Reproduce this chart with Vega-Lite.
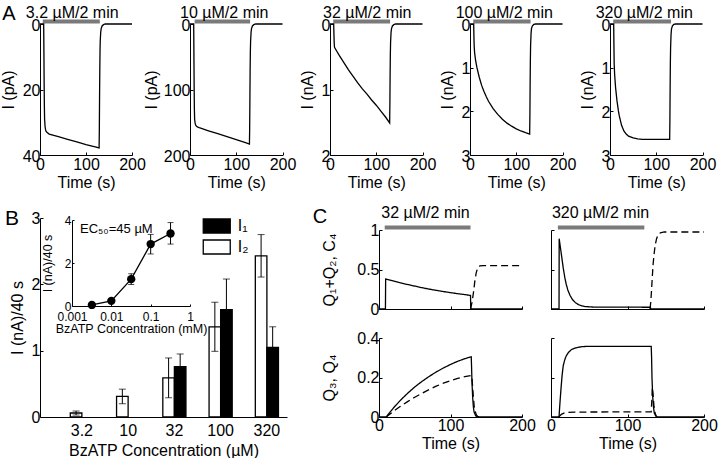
{
 "$schema": "https://vega.github.io/schema/vega-lite/v6.json",
 "padding": {"left": 0, "top": 3, "right": 0, "bottom": 0},
 "background": "white",
 "config": {
  "font": "Liberation Sans",
  "view": {"stroke": null},
  "style": {"guide-title": {"fontWeight": "normal"}, "group-title": {"fontWeight": "normal"}},
  "axis": {"domainColor": "#000", "domainWidth": 1, "tickColor": "#000", "tickSize": -3, "tickWidth": 1, "labelPadding": 3, "labelFontSize": 16, "labelColor": "#000", "titleFontSize": 16, "titleFontWeight": "normal", "titleColor": "#000", "titlePadding": 2, "grid": false, "labelFlush": false, "labelOverlap": false, "labelFont": "Liberation Sans", "titleFont": "Liberation Sans"},
  "axisQuantitative": {"format": "~r"},
  "title": {"fontSize": 16, "fontWeight": "normal", "font": "Liberation Sans", "color": "#000", "anchor": "middle", "frame": "group", "offset": -3.5},
  "legend": {"labelFont": "Liberation Sans"}
 },
 "resolve": {"legend": {"fill": "independent"}},
 "datasets": {
  "stim": [
   {"p": "3.2", "start": 6, "end": 130},
   {"p": "10", "start": 10, "end": 130},
   {"p": "32", "start": 7, "end": 130},
   {"p": "100", "start": 7, "end": 131},
   {"p": "320", "start": 7, "end": 132},
   {"p": "C1", "start": 8, "end": 128},
   {"p": "C2", "start": 9, "end": 122}
  ],
  "traceA": [
   {"p":"3.2","t":0,"i":0},{"p":"3.2","t":8,"i":0},{"p":"3.2","t":8.6,"i":10},{"p":"3.2","t":9,"i":18},{"p":"3.2","t":9.5,"i":25},{"p":"3.2","t":10,"i":29},{"p":"3.2","t":11,"i":31.3},{"p":"3.2","t":12,"i":32.2},{"p":"3.2","t":13,"i":32.7},{"p":"3.2","t":15,"i":33.1},{"p":"3.2","t":20,"i":33.6},{"p":"3.2","t":40,"i":34.4},{"p":"3.2","t":60,"i":35.2},{"p":"3.2","t":80,"i":36},{"p":"3.2","t":100,"i":36.8},{"p":"3.2","t":120,"i":37.5},{"p":"3.2","t":128.5,"i":37.8},{"p":"3.2","t":129,"i":32},{"p":"3.2","t":129.5,"i":22},{"p":"3.2","t":130,"i":14},{"p":"3.2","t":130.5,"i":8},{"p":"3.2","t":131,"i":5},{"p":"3.2","t":132,"i":2.5},{"p":"3.2","t":133,"i":1.4},{"p":"3.2","t":135,"i":0.6},{"p":"3.2","t":138,"i":0.2},{"p":"3.2","t":142,"i":0},{"p":"3.2","t":200,"i":0},
   {"p":"10","t":0,"i":0},{"p":"10","t":8,"i":0},{"p":"10","t":8.6,"i":60},{"p":"10","t":9,"i":100},{"p":"10","t":9.5,"i":130},{"p":"10","t":10,"i":145},{"p":"10","t":11,"i":151},{"p":"10","t":12,"i":154},{"p":"10","t":14,"i":156.3},{"p":"10","t":17,"i":157.5},{"p":"10","t":20,"i":158.3},{"p":"10","t":40,"i":163},{"p":"10","t":60,"i":167.5},{"p":"10","t":80,"i":172},{"p":"10","t":100,"i":176.5},{"p":"10","t":120,"i":181},{"p":"10","t":128.5,"i":183.2},{"p":"10","t":129,"i":160},{"p":"10","t":129.5,"i":115},{"p":"10","t":130,"i":70},{"p":"10","t":130.5,"i":42},{"p":"10","t":131,"i":27},{"p":"10","t":132,"i":13},{"p":"10","t":133,"i":7},{"p":"10","t":135,"i":3},{"p":"10","t":138,"i":1},{"p":"10","t":142,"i":0},{"p":"10","t":200,"i":0},
   {"p":"32","t":0,"i":0},{"p":"32","t":8,"i":0},{"p":"32","t":8.5,"i":0.15},{"p":"32","t":9,"i":0.28},{"p":"32","t":9.5,"i":0.34},{"p":"32","t":10,"i":0.36},{"p":"32","t":15,"i":0.42},{"p":"32","t":20,"i":0.48},{"p":"32","t":30,"i":0.59},{"p":"32","t":40,"i":0.7},{"p":"32","t":50,"i":0.8},{"p":"32","t":60,"i":0.9},{"p":"32","t":70,"i":0.99},{"p":"32","t":80,"i":1.07},{"p":"32","t":90,"i":1.16},{"p":"32","t":100,"i":1.24},{"p":"32","t":110,"i":1.33},{"p":"32","t":120,"i":1.42},{"p":"32","t":129,"i":1.51},{"p":"32","t":129.5,"i":1.2},{"p":"32","t":130,"i":0.75},{"p":"32","t":130.5,"i":0.45},{"p":"32","t":131,"i":0.28},{"p":"32","t":132,"i":0.13},{"p":"32","t":133,"i":0.07},{"p":"32","t":135,"i":0.03},{"p":"32","t":138,"i":0.01},{"p":"32","t":142,"i":0},{"p":"32","t":200,"i":0},
   {"p":"100","t":0,"i":0},{"p":"100","t":8,"i":0},{"p":"100","t":8.5,"i":0.3},{"p":"100","t":9,"i":0.5},{"p":"100","t":10,"i":0.66},{"p":"100","t":12,"i":0.83},{"p":"100","t":15,"i":1.0},{"p":"100","t":20,"i":1.22},{"p":"100","t":25,"i":1.4},{"p":"100","t":30,"i":1.54},{"p":"100","t":35,"i":1.66},{"p":"100","t":40,"i":1.77},{"p":"100","t":50,"i":1.94},{"p":"100","t":60,"i":2.07},{"p":"100","t":70,"i":2.18},{"p":"100","t":80,"i":2.27},{"p":"100","t":90,"i":2.34},{"p":"100","t":100,"i":2.4},{"p":"100","t":110,"i":2.45},{"p":"100","t":120,"i":2.49},{"p":"100","t":129,"i":2.52},{"p":"100","t":129.5,"i":2.1},{"p":"100","t":130,"i":1.4},{"p":"100","t":130.5,"i":0.85},{"p":"100","t":131,"i":0.5},{"p":"100","t":132,"i":0.22},{"p":"100","t":133,"i":0.1},{"p":"100","t":135,"i":0.04},{"p":"100","t":138,"i":0.01},{"p":"100","t":142,"i":0},{"p":"100","t":200,"i":0},
   {"p":"320","t":0,"i":0},{"p":"320","t":8,"i":0},{"p":"320","t":8.5,"i":0.5},{"p":"320","t":9,"i":0.9},{"p":"320","t":10,"i":1.15},{"p":"320","t":12,"i":1.45},{"p":"320","t":15,"i":1.75},{"p":"320","t":18,"i":1.98},{"p":"320","t":20,"i":2.1},{"p":"320","t":25,"i":2.32},{"p":"320","t":30,"i":2.45},{"p":"320","t":35,"i":2.52},{"p":"320","t":40,"i":2.57},{"p":"320","t":50,"i":2.61},{"p":"320","t":60,"i":2.63},{"p":"320","t":70,"i":2.64},{"p":"320","t":129,"i":2.64},{"p":"320","t":129.5,"i":2.2},{"p":"320","t":130,"i":1.5},{"p":"320","t":130.5,"i":0.9},{"p":"320","t":131,"i":0.55},{"p":"320","t":132,"i":0.24},{"p":"320","t":133,"i":0.11},{"p":"320","t":135,"i":0.04},{"p":"320","t":138,"i":0.01},{"p":"320","t":142,"i":0},{"p":"320","t":200,"i":0}
  ],
  "traceC": [
   {"p":"C1","s":"solid","t":0,"v":0},{"p":"C1","s":"solid","t":9,"v":0},{"p":"C1","s":"solid","t":9.3,"v":0.38},{"p":"C1","s":"solid","t":20,"v":0.355},{"p":"C1","s":"solid","t":30,"v":0.33},{"p":"C1","s":"solid","t":40,"v":0.31},{"p":"C1","s":"solid","t":50,"v":0.29},{"p":"C1","s":"solid","t":60,"v":0.27},{"p":"C1","s":"solid","t":70,"v":0.252},{"p":"C1","s":"solid","t":80,"v":0.236},{"p":"C1","s":"solid","t":90,"v":0.221},{"p":"C1","s":"solid","t":100,"v":0.207},{"p":"C1","s":"solid","t":110,"v":0.194},{"p":"C1","s":"solid","t":120,"v":0.182},{"p":"C1","s":"solid","t":128,"v":0.172},{"p":"C1","s":"solid","t":128.3,"v":0},{"p":"C1","s":"solid","t":200,"v":0},
   {"p":"C1","s":"dashed","t":128,"v":0},{"p":"C1","s":"dashed","t":130,"v":0.08},{"p":"C1","s":"dashed","t":132,"v":0.2},{"p":"C1","s":"dashed","t":134,"v":0.35},{"p":"C1","s":"dashed","t":136,"v":0.46},{"p":"C1","s":"dashed","t":138,"v":0.52},{"p":"C1","s":"dashed","t":141,"v":0.545},{"p":"C1","s":"dashed","t":145,"v":0.55},{"p":"C1","s":"dashed","t":200,"v":0.55},
   {"p":"C2","s":"solid","t":0,"v":0},{"p":"C2","s":"solid","t":10.5,"v":0},{"p":"C2","s":"solid","t":10.7,"v":0.89},{"p":"C2","s":"solid","t":12,"v":0.8},{"p":"C2","s":"solid","t":14,"v":0.66},{"p":"C2","s":"solid","t":16,"v":0.52},{"p":"C2","s":"solid","t":18,"v":0.4},{"p":"C2","s":"solid","t":20,"v":0.31},{"p":"C2","s":"solid","t":22,"v":0.24},{"p":"C2","s":"solid","t":25,"v":0.17},{"p":"C2","s":"solid","t":28,"v":0.12},{"p":"C2","s":"solid","t":32,"v":0.08},{"p":"C2","s":"solid","t":36,"v":0.055},{"p":"C2","s":"solid","t":40,"v":0.04},{"p":"C2","s":"solid","t":45,"v":0.03},{"p":"C2","s":"solid","t":55,"v":0.025},{"p":"C2","s":"solid","t":130,"v":0.022},{"p":"C2","s":"solid","t":130.2,"v":0},{"p":"C2","s":"solid","t":200,"v":0},
   {"p":"C2","s":"dashed","t":129.5,"v":0},{"p":"C2","s":"dashed","t":130.5,"v":0.1},{"p":"C2","s":"dashed","t":131.5,"v":0.25},{"p":"C2","s":"dashed","t":132.5,"v":0.42},{"p":"C2","s":"dashed","t":133.5,"v":0.57},{"p":"C2","s":"dashed","t":134.5,"v":0.67},{"p":"C2","s":"dashed","t":136,"v":0.8},{"p":"C2","s":"dashed","t":138,"v":0.89},{"p":"C2","s":"dashed","t":140,"v":0.94},{"p":"C2","s":"dashed","t":143,"v":0.965},{"p":"C2","s":"dashed","t":148,"v":0.975},{"p":"C2","s":"dashed","t":200,"v":0.975},
   {"p":"C3","s":"solid","t":0,"v":0},{"p":"C3","s":"solid","t":10,"v":0},{"p":"C3","s":"solid","t":20,"v":0.045},{"p":"C3","s":"solid","t":30,"v":0.085},{"p":"C3","s":"solid","t":40,"v":0.12},{"p":"C3","s":"solid","t":50,"v":0.152},{"p":"C3","s":"solid","t":60,"v":0.18},{"p":"C3","s":"solid","t":70,"v":0.205},{"p":"C3","s":"solid","t":80,"v":0.228},{"p":"C3","s":"solid","t":90,"v":0.248},{"p":"C3","s":"solid","t":100,"v":0.266},{"p":"C3","s":"solid","t":110,"v":0.282},{"p":"C3","s":"solid","t":120,"v":0.295},{"p":"C3","s":"solid","t":129,"v":0.305},{"p":"C3","s":"solid","t":129.5,"v":0.25},{"p":"C3","s":"solid","t":130,"v":0.18},{"p":"C3","s":"solid","t":131,"v":0.1},{"p":"C3","s":"solid","t":132,"v":0.05},{"p":"C3","s":"solid","t":133,"v":0.025},{"p":"C3","s":"solid","t":135,"v":0.008},{"p":"C3","s":"solid","t":137,"v":0},{"p":"C3","s":"solid","t":200,"v":0},
   {"p":"C3","s":"dashed","t":10,"v":0},{"p":"C3","s":"dashed","t":20,"v":0.028},{"p":"C3","s":"dashed","t":30,"v":0.054},{"p":"C3","s":"dashed","t":40,"v":0.078},{"p":"C3","s":"dashed","t":50,"v":0.1},{"p":"C3","s":"dashed","t":60,"v":0.12},{"p":"C3","s":"dashed","t":70,"v":0.139},{"p":"C3","s":"dashed","t":80,"v":0.156},{"p":"C3","s":"dashed","t":90,"v":0.171},{"p":"C3","s":"dashed","t":100,"v":0.184},{"p":"C3","s":"dashed","t":110,"v":0.195},{"p":"C3","s":"dashed","t":120,"v":0.204},{"p":"C3","s":"dashed","t":129,"v":0.21},{"p":"C3","s":"dashed","t":130,"v":0.2},{"p":"C3","s":"dashed","t":131,"v":0.15},{"p":"C3","s":"dashed","t":132,"v":0.1},{"p":"C3","s":"dashed","t":133,"v":0.06},{"p":"C3","s":"dashed","t":134,"v":0.035},{"p":"C3","s":"dashed","t":136,"v":0.012},{"p":"C3","s":"dashed","t":138,"v":0.003},{"p":"C3","s":"dashed","t":140,"v":0},
   {"p":"C4","s":"solid","t":0,"v":0},{"p":"C4","s":"solid","t":10.5,"v":0},{"p":"C4","s":"solid","t":11.5,"v":0.06},{"p":"C4","s":"solid","t":13,"v":0.14},{"p":"C4","s":"solid","t":14.5,"v":0.21},{"p":"C4","s":"solid","t":16,"v":0.26},{"p":"C4","s":"solid","t":18,"v":0.29},{"p":"C4","s":"solid","t":20,"v":0.31},{"p":"C4","s":"solid","t":23,"v":0.328},{"p":"C4","s":"solid","t":27,"v":0.342},{"p":"C4","s":"solid","t":32,"v":0.35},{"p":"C4","s":"solid","t":40,"v":0.356},{"p":"C4","s":"solid","t":50,"v":0.358},{"p":"C4","s":"solid","t":131,"v":0.358},{"p":"C4","s":"solid","t":131.5,"v":0.3},{"p":"C4","s":"solid","t":132,"v":0.2},{"p":"C4","s":"solid","t":133,"v":0.1},{"p":"C4","s":"solid","t":134,"v":0.05},{"p":"C4","s":"solid","t":135,"v":0.02},{"p":"C4","s":"solid","t":137,"v":0.005},{"p":"C4","s":"solid","t":139,"v":0},{"p":"C4","s":"solid","t":200,"v":0},
   {"p":"C4","s":"dashed","t":10.5,"v":0},{"p":"C4","s":"dashed","t":12,"v":0.008},{"p":"C4","s":"dashed","t":14,"v":0.015},{"p":"C4","s":"dashed","t":17,"v":0.02},{"p":"C4","s":"dashed","t":20,"v":0.023},{"p":"C4","s":"dashed","t":30,"v":0.025},{"p":"C4","s":"dashed","t":131,"v":0.026},{"p":"C4","s":"dashed","t":132,"v":0.1},{"p":"C4","s":"dashed","t":132.5,"v":0.15},{"p":"C4","s":"dashed","t":133.5,"v":0.11},{"p":"C4","s":"dashed","t":134.5,"v":0.06},{"p":"C4","s":"dashed","t":136,"v":0.02},{"p":"C4","s":"dashed","t":138,"v":0}
  ],
  "bars": [
   {"conc": "3.2", "series": "I₂", "value": 0.06, "lo": 0.03, "hi": 0.09},
   {"conc": "10", "series": "I₂", "value": 0.31, "lo": 0.2, "hi": 0.42},
   {"conc": "32", "series": "I₂", "value": 0.59, "lo": 0.29, "hi": 0.89},
   {"conc": "32", "series": "I₁", "value": 0.76, "lo": 0.57, "hi": 0.95},
   {"conc": "100", "series": "I₂", "value": 1.36, "lo": 0.99, "hi": 1.73},
   {"conc": "100", "series": "I₁", "value": 1.62, "lo": 1.16, "hi": 2.08},
   {"conc": "320", "series": "I₂", "value": 2.43, "lo": 2.11, "hi": 2.75},
   {"conc": "320", "series": "I₁", "value": 1.05, "lo": 0.74, "hi": 1.36}
  ],
  "dose": [
   {"mM": 0.0032, "value": 0.05, "lo": 0.02, "hi": 0.08},
   {"mM": 0.01, "value": 0.24, "lo": 0.15, "hi": 0.33},
   {"mM": 0.032, "value": 1.25, "lo": 1.0, "hi": 1.5},
   {"mM": 0.1, "value": 2.88, "lo": 2.42, "hi": 3.33},
   {"mM": 0.32, "value": 3.37, "lo": 2.88, "hi": 3.88}
  ],
  "ec": [{"label": "EC₅₀=45 µM"}]
 },
 "spacing": 14,
 "vconcat": [
  {
   "title": {"text": "A", "anchor": "start", "frame": "bounds", "fontSize": 20, "offset": -19, "dx": 2},
   "bounds": "flush",
   "spacing": 47,
   "hconcat": [
    {
     "width": 102.5, "height": 131,
     "title": {"text": "3.2 µM/2 min", "dx": -19},
     "layer": [
      {"data": {"name": "stim"}, "transform": [{"filter": "datum.p === '3.2'"}],
       "mark": {"type": "rule", "color": "#7a7a7a", "strokeWidth": 4, "yOffset": -2.5},
       "encoding": {"x": {"field": "start", "type": "quantitative", "title": "Time (s)"}, "x2": {"field": "end"}, "y": {"datum": 0, "type": "quantitative"}}},
      {"data": {"name": "traceA"}, "transform": [{"filter": "datum.p === '3.2'"}],
       "mark": {"type": "line", "color": "#000", "strokeWidth": 1.3},
       "encoding": {
        "x": {"field": "t", "type": "quantitative", "title": "Time (s)", "scale": {"domain": [0, 200], "nice": false, "range": [0, 92]}, "axis": {"values": [0, 100, 200], "labelPadding": 4}},
        "y": {"field": "i", "type": "quantitative", "title": "I (pA)", "scale": {"domain": [0, 40], "nice": false, "reverse": true}, "axis": {"values": [0, 20, 40], "titlePadding": 6, "labelOffset": 1}}}}
     ]
    },
    {
     "width": 92.5, "height": 131,
     "title": {"text": "10 µM/2 min", "dx": -12},
     "layer": [
      {"data": {"name": "stim"}, "transform": [{"filter": "datum.p === '10'"}],
       "mark": {"type": "rule", "color": "#7a7a7a", "strokeWidth": 4, "yOffset": -2.5},
       "encoding": {"x": {"field": "start", "type": "quantitative", "title": "Time (s)"}, "x2": {"field": "end"}, "y": {"datum": 0, "type": "quantitative"}}},
      {"data": {"name": "traceA"}, "transform": [{"filter": "datum.p === '10'"}],
       "mark": {"type": "line", "color": "#000", "strokeWidth": 1.3},
       "encoding": {
        "x": {"field": "t", "type": "quantitative", "title": "Time (s)", "scale": {"domain": [0, 200], "nice": false}, "axis": {"values": [0, 100, 200], "labelPadding": 4}},
        "y": {"field": "i", "type": "quantitative", "title": "I (pA)", "scale": {"domain": [0, 200], "nice": false, "reverse": true}, "axis": {"values": [0, 100, 200], "titlePadding": 4, "labelOffset": 1}}}}
     ]
    },
    {
     "width": 92.5, "height": 131,
     "title": {"text": "32 µM/2 min", "dx": -9},
     "layer": [
      {"data": {"name": "stim"}, "transform": [{"filter": "datum.p === '32'"}],
       "mark": {"type": "rule", "color": "#7a7a7a", "strokeWidth": 4, "yOffset": -2.5},
       "encoding": {"x": {"field": "start", "type": "quantitative", "title": "Time (s)"}, "x2": {"field": "end"}, "y": {"datum": 0, "type": "quantitative"}}},
      {"data": {"name": "traceA"}, "transform": [{"filter": "datum.p === '32'"}],
       "mark": {"type": "line", "color": "#000", "strokeWidth": 1.3},
       "encoding": {
        "x": {"field": "t", "type": "quantitative", "title": "Time (s)", "scale": {"domain": [0, 200], "nice": false}, "axis": {"values": [0, 100, 200], "labelPadding": 4}},
        "y": {"field": "i", "type": "quantitative", "title": "I (nA)", "scale": {"domain": [0, 2], "nice": false, "reverse": true}, "axis": {"values": [0, 1, 2], "titlePadding": 6, "labelOffset": 1}}}}
     ]
    },
    {
     "width": 92.5, "height": 131,
     "title": {"text": "100 µM/2 min", "dx": -12},
     "layer": [
      {"data": {"name": "stim"}, "transform": [{"filter": "datum.p === '100'"}],
       "mark": {"type": "rule", "color": "#7a7a7a", "strokeWidth": 4, "yOffset": -2.5},
       "encoding": {"x": {"field": "start", "type": "quantitative", "title": "Time (s)"}, "x2": {"field": "end"}, "y": {"datum": 0, "type": "quantitative"}}},
      {"data": {"name": "traceA"}, "transform": [{"filter": "datum.p === '100'"}],
       "mark": {"type": "line", "color": "#000", "strokeWidth": 1.3},
       "encoding": {
        "x": {"field": "t", "type": "quantitative", "title": "Time (s)", "scale": {"domain": [0, 200], "nice": false}, "axis": {"values": [0, 100, 200], "labelPadding": 4}},
        "y": {"field": "i", "type": "quantitative", "title": "I (nA)", "scale": {"domain": [0, 3], "nice": false, "reverse": true}, "axis": {"values": [0, 1, 2, 3], "titlePadding": 6, "labelOffset": 1}}}}
     ]
    },
    {
     "width": 92.5, "height": 131,
     "title": {"text": "320 µM/2 min", "dx": -12},
     "layer": [
      {"data": {"name": "stim"}, "transform": [{"filter": "datum.p === '320'"}],
       "mark": {"type": "rule", "color": "#7a7a7a", "strokeWidth": 4, "yOffset": -2.5},
       "encoding": {"x": {"field": "start", "type": "quantitative", "title": "Time (s)"}, "x2": {"field": "end"}, "y": {"datum": 0, "type": "quantitative"}}},
      {"data": {"name": "traceA"}, "transform": [{"filter": "datum.p === '320'"}],
       "mark": {"type": "line", "color": "#000", "strokeWidth": 1.3},
       "encoding": {
        "x": {"field": "t", "type": "quantitative", "title": "Time (s)", "scale": {"domain": [0, 200], "nice": false}, "axis": {"values": [0, 100, 200], "labelPadding": 4}},
        "y": {"field": "i", "type": "quantitative", "title": "I (nA)", "scale": {"domain": [0, 3], "nice": false, "reverse": true}, "axis": {"values": [0, 1, 2, 3], "titlePadding": 6, "labelOffset": 1}}}}
     ]
    }
   ]
  },
  {
   "spacing": 25,
   "resolve": {"legend": {"fill": "independent"}},
   "hconcat": [
    {
     "width": 247, "height": 199,
     "title": {"text": "B", "anchor": "start", "frame": "bounds", "fontSize": 21, "offset": -18.5, "dx": -4},
     "resolve": {"scale": {"x": "independent", "y": "independent"}, "axis": {"x": "independent", "y": "independent"}},
     "layer": [
      {
       "data": {"name": "bars"},
       "encoding": {
        "x": {"field": "conc", "type": "nominal", "sort": ["3.2", "10", "32", "100", "320"], "title": "BzATP Concentration (µM)", "scale": {"paddingInner": 0.5, "paddingOuter": 0.42, "align": 0.78}, "axis": {"labelAngle": 0, "ticks": false, "labelPadding": 5, "titlePadding": 4}},
        "xOffset": {"field": "series", "type": "nominal", "sort": ["I₂", "I₁"]}
       },
       "layer": [
        {"mark": {"type": "bar", "stroke": "#000", "strokeWidth": 1.3},
         "encoding": {
          "y": {"field": "value", "type": "quantitative", "title": "I (nA)/40 s", "scale": {"domain": [0, 3], "nice": false}, "axis": {"values": [0, 1, 2, 3], "titlePadding": 6}},
          "fill": {"field": "series", "type": "nominal", "scale": {"domain": ["I₁", "I₂"], "range": ["#000000", "#ffffff"]},
           "legend": {"orient": "none", "legendX": 168.75, "legendY": 0, "title": null, "symbolType": "M-2,-1.04H2V1.04H-2Z", "symbolSize": 182.25, "symbolStrokeColor": "#000", "symbolStrokeWidth": 1.3, "labelFontSize": 16, "labelColor": "#000", "labelOffset": 13, "rowPadding": 1, "padding": 0}}}},
        {"mark": {"type": "rule", "color": "#000", "strokeWidth": 1},
         "encoding": {"y": {"field": "lo", "type": "quantitative", "title": "I (nA)/40 s"}, "y2": {"field": "hi"}}},
        {"mark": {"type": "tick", "orient": "horizontal", "color": "#000", "size": 7, "thickness": 1},
         "encoding": {"y": {"field": "lo", "type": "quantitative", "title": "I (nA)/40 s"}}},
        {"mark": {"type": "tick", "orient": "horizontal", "color": "#000", "size": 7, "thickness": 1},
         "encoding": {"y": {"field": "hi", "type": "quantitative", "title": "I (nA)/40 s"}}}
       ]
      },
      {
       "data": {"name": "dose"},
       "encoding": {
        "x": {"field": "mM", "type": "quantitative", "title": "BzATP Concentration (mM)", "scale": {"type": "log", "domain": [0.001, 1], "range": [32, 150], "nice": false}, "axis": {"orient": "bottom", "offset": -111, "values": [0.001, 0.01, 0.1, 1], "format": "~g", "labelFontSize": 12, "titleFontSize": 12.5, "labelPadding": 7, "titlePadding": 0, "tickSize": -2}}
       },
       "layer": [
        {"mark": {"type": "line", "color": "#000", "strokeWidth": 1.3},
         "encoding": {"y": {"field": "value", "type": "quantitative", "title": "I (nA)/40 s", "scale": {"domain": [0, 4], "range": [88, 2], "nice": false}, "axis": {"orient": "left", "offset": -32, "values": [0, 2, 4], "labelFontSize": 12, "titleFontSize": 12.5, "titlePadding": 10, "labelPadding": 3, "tickSize": -2}}}},
        {"mark": {"type": "rule", "color": "#000", "strokeWidth": 1},
         "encoding": {"y": {"field": "lo", "type": "quantitative", "title": "I (nA)/40 s"}, "y2": {"field": "hi"}}},
        {"mark": {"type": "tick", "orient": "horizontal", "color": "#000", "size": 6, "thickness": 1},
         "encoding": {"y": {"field": "lo", "type": "quantitative", "title": "I (nA)/40 s"}}},
        {"mark": {"type": "tick", "orient": "horizontal", "color": "#000", "size": 6, "thickness": 1},
         "encoding": {"y": {"field": "hi", "type": "quantitative", "title": "I (nA)/40 s"}}},
        {"mark": {"type": "point", "filled": true, "color": "#000", "size": 70, "opacity": 1},
         "encoding": {"y": {"field": "value", "type": "quantitative", "title": "I (nA)/40 s"}}}
       ]
      },
      {
       "data": {"name": "ec"},
       "mark": {"type": "text", "align": "left", "baseline": "middle", "fontSize": 13, "color": "#000"},
       "encoding": {
        "x": {"datum": 0.0016, "type": "quantitative", "scale": {"type": "log", "domain": [0.001, 1], "range": [32, 150], "nice": false}, "axis": null},
        "y": {"datum": 3.6, "type": "quantitative", "scale": {"domain": [0, 4], "range": [88, 2], "nice": false}, "axis": null},
        "text": {"field": "label"}}
      }
     ]
    },
    {
     "title": {"text": "C", "anchor": "start", "frame": "bounds", "fontSize": 20, "offset": -22.5, "dx": -9},
     "columns": 2,
     "bounds": "flush",
     "spacing": {"row": 29, "column": 29},
     "concat": [
      {
       "width": 143, "height": 91,
       "title": {"text": "32 µM/2 min", "dx": -25, "offset": -2.5},
       "layer": [
        {"data": {"name": "stim"}, "transform": [{"filter": "datum.p === 'C1'"}],
         "mark": {"type": "rule", "color": "#7a7a7a", "strokeWidth": 4, "yOffset": -2.5},
         "encoding": {"x": {"field": "start", "type": "quantitative", "title": null}, "x2": {"field": "end"}, "y": {"datum": 1, "type": "quantitative"}}},
        {"data": {"name": "traceC"}, "transform": [{"filter": "datum.p === 'C1'"}],
         "mark": {"type": "line", "color": "#000", "strokeWidth": 1.3},
         "encoding": {
          "x": {"field": "t", "type": "quantitative", "title": null, "scale": {"domain": [0, 200], "nice": false}, "axis": {"values": [0, 100, 200], "labels": false}},
          "y": {"field": "v", "type": "quantitative", "title": "Q₁+Q₂, C₄", "scale": {"domain": [0, 1], "nice": false, "range": [91, 12]}, "axis": {"values": [0, 0.5, 1], "titlePadding": 19}},
          "strokeDash": {"field": "s", "type": "nominal", "scale": {"domain": ["solid", "dashed"], "range": [[1, 0], [7, 4]]}, "legend": null}}}
       ]
      },
      {
       "width": 153, "height": 91,
       "title": {"text": "320 µM/2 min", "dx": -27, "offset": -2.5},
       "layer": [
        {"data": {"name": "stim"}, "transform": [{"filter": "datum.p === 'C2'"}],
         "mark": {"type": "rule", "color": "#7a7a7a", "strokeWidth": 4, "yOffset": -2.5},
         "encoding": {"x": {"field": "start", "type": "quantitative", "title": null}, "x2": {"field": "end"}, "y": {"datum": 1, "type": "quantitative"}}},
        {"data": {"name": "traceC"}, "transform": [{"filter": "datum.p === 'C2'"}],
         "mark": {"type": "line", "color": "#000", "strokeWidth": 1.3},
         "encoding": {
          "x": {"field": "t", "type": "quantitative", "title": null, "scale": {"domain": [0, 200], "nice": false}, "axis": {"values": [0, 100, 200], "labels": false}},
          "y": {"field": "v", "type": "quantitative", "title": null, "scale": {"domain": [0, 1], "nice": false, "range": [91, 12]}, "axis": {"values": [0, 0.5, 1], "labels": false}},
          "strokeDash": {"field": "s", "type": "nominal", "scale": {"domain": ["solid", "dashed"], "range": [[1, 0], [7, 4]]}, "legend": null}}}
       ]
      },
      {
       "width": 143, "height": 79,
       "data": {"name": "traceC"},
       "transform": [{"filter": "datum.p === 'C3'"}],
       "mark": {"type": "line", "color": "#000", "strokeWidth": 1.3},
       "encoding": {
        "x": {"field": "t", "type": "quantitative", "title": "Time (s)", "scale": {"domain": [0, 200], "nice": false}, "axis": {"values": [0, 100, 200]}},
        "y": {"field": "v", "type": "quantitative", "title": "Q₃, Q₄", "scale": {"domain": [0, 0.4], "nice": false}, "axis": {"values": [0, 0.2, 0.4], "titlePadding": 19}},
        "strokeDash": {"field": "s", "type": "nominal", "scale": {"domain": ["solid", "dashed"], "range": [[1, 0], [7, 4]]}, "legend": null}}
      },
      {
       "width": 153, "height": 79,
       "data": {"name": "traceC"},
       "transform": [{"filter": "datum.p === 'C4'"}],
       "mark": {"type": "line", "color": "#000", "strokeWidth": 1.3},
       "encoding": {
        "x": {"field": "t", "type": "quantitative", "title": "Time (s)", "scale": {"domain": [0, 200], "nice": false}, "axis": {"values": [0, 100, 200]}},
        "y": {"field": "v", "type": "quantitative", "title": null, "scale": {"domain": [0, 0.4], "nice": false}, "axis": {"values": [0, 0.2, 0.4], "labels": false}},
        "strokeDash": {"field": "s", "type": "nominal", "scale": {"domain": ["solid", "dashed"], "range": [[1, 0], [7, 4]]}, "legend": null}}
      }
     ]
    }
   ]
  }
 ]
}
